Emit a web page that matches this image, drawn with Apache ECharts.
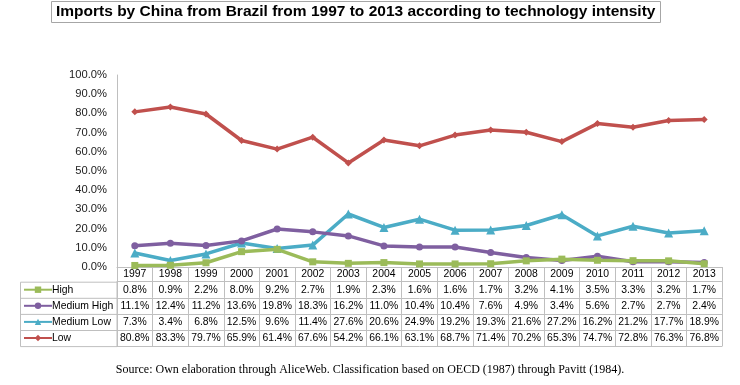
<!DOCTYPE html>
<html><head><meta charset="utf-8">
<script src="https://cdn.jsdelivr.net/npm/echarts@6/dist/echarts.min.js"></script>
<style>html,body{margin:0;padding:0;background:#fff}#c{width:740px;height:385px}</style>
</head><body><div id="c"></div>
<script>
var years = ['1997','1998','1999','2000','2001','2002','2003','2004','2005','2006','2007','2008','2009','2010','2011','2012','2013'];
var high = [0.8,0.9,2.2,8.0,9.2,2.7,1.9,2.3,1.6,1.6,1.7,3.2,4.1,3.5,3.3,3.2,1.7];
var mediumHigh = [11.1,12.4,11.2,13.6,19.8,18.3,16.2,11.0,10.4,10.4,7.6,4.9,3.4,5.6,2.7,2.7,2.4];
var mediumLow = [7.3,3.4,6.8,12.5,9.6,11.4,27.6,20.6,24.9,19.2,19.3,21.6,27.2,16.2,21.2,17.7,18.9];
var low = [80.8,83.3,79.7,65.9,61.4,67.6,54.2,66.1,63.1,68.7,71.4,70.2,65.3,74.7,72.8,76.3,76.8];
var seriesNames = ['High','Medium High','Medium Low','Low'];
var yTicks = [0,10,20,30,40,50,60,70,80,90,100];

var colors = ['#9BBB59','#7F5FA0','#4BACC6','#C0504D'];
var symbols = ['rect','circle','triangle','diamond'];
var rows = [high, mediumHigh, mediumLow, low];
var gridLeft = 117, gridRight = 18, gridTop = 75, gridBottom = 118;
var headerH = 14.7, rowH = 16.1;
var lineCol = '#BFBFBF';
var tblFont = 10.4;

var chart = echarts.init(document.getElementById('c'));
var xAxes = [{
  type:'category', data: years, position:'bottom', gridIndex:0, boundaryGap:true,
  axisLine:{show:true, lineStyle:{color:lineCol, width:1}},
  axisTick:{show:true, interval:0, length:headerH, lineStyle:{color:lineCol}},
  axisLabel:{interval:0, margin:2, fontSize:tblFont, color:'#000', fontFamily:'Liberation Sans'}
}];
rows.forEach(function(r, i){
  xAxes.push({
    type:'category', data: years, position:'bottom', gridIndex:0, boundaryGap:true,
    offset: headerH + i*rowH,
    axisLine:{show:true, lineStyle:{color:lineCol, width:1}},
    axisTick:{show:true, interval:0, length:rowH, lineStyle:{color:lineCol}},
    axisLabel:{interval:0, margin:3, fontSize:tblFont, color:'#000', fontFamily:'Liberation Sans',
      formatter:function(v, idx){ return r[idx].toFixed(1) + '%'; }}
  });
});
xAxes.push({
  type:'category', data: years, position:'bottom', gridIndex:0, boundaryGap:true,
  offset: headerH + 4*rowH,
  axisLine:{show:true, lineStyle:{color:lineCol, width:1}},
  axisTick:{show:false}, axisLabel:{show:false}
});

var series = rows.map(function(r, i){
  return {
    name: seriesNames[i], type:'line', xAxisIndex:0, yAxisIndex:0, data:r,
    symbol: symbols[i], symbolSize: i===2 ? 9 : 7, showSymbol:true,
    lineStyle:{color:colors[i], width:3.5}, itemStyle:{color:colors[i]},
    z: 10 - i, animation:false
  };
});

var tableTop = 385 - gridBottom;
var legendTop = tableTop + headerH;
var legends = seriesNames.map(function(n, i){
  return {
    data:[n], left: 23, top: legendTop + i*rowH + 3,
    itemWidth: 28, itemHeight: 8, itemGap: 0, padding: 0,
    textStyle:{fontSize:tblFont, color:'#000', fontFamily:'Liberation Sans', padding:[0,0,0,-5]},
    selectedMode:false
  };
});

var graphics = [
  {type:'rect', shape:{x:20.5, y:legendTop+0.5, width:gridLeft-20.5, height:4*rowH}, style:{fill:'none', stroke:lineCol, lineWidth:1}}
];
for (var k=1;k<4;k++){
  graphics.push({type:'line', shape:{x1:20.5, y1:legendTop+k*rowH+0.5, x2:gridLeft, y2:legendTop+k*rowH+0.5}, style:{stroke:lineCol, lineWidth:1}});
}
graphics.push({type:'text', left:'center', top:364, style:{text:'Source: Own elaboration through AliceWeb. Classification based on OECD (1987) through Pavitt (1984).', font:'12px "Liberation Serif"', fill:'#000'}});

chart.setOption({
  animation:false,
  title:{text:'Imports by China from Brazil from 1997 to 2013 according to technology intensity',
    left: 51, top: 1, padding:[3,5,3,5], borderColor:'#A6A6A6', borderWidth:1,
    textStyle:{fontFamily:'"Liberation Sans Narrow","Liberation Sans"', fontWeight:'bold', fontSize:15.5, color:'#000'}},
  legend: legends,
  grid:{left:gridLeft, right:gridRight, top:gridTop, bottom:gridBottom, containLabel:false},
  xAxis: xAxes,
  yAxis:{type:'value', min:0, max:100, interval:10,
    axisLine:{show:true, lineStyle:{color:lineCol}}, axisTick:{show:false}, splitLine:{show:false},
    axisLabel:{margin:10, fontSize:11.2, color:'#222', fontFamily:'Liberation Sans',
      formatter:function(v){ return v.toFixed(1)+'%'; }}},
  series: series,
  graphic: graphics
});
</script></body></html>
